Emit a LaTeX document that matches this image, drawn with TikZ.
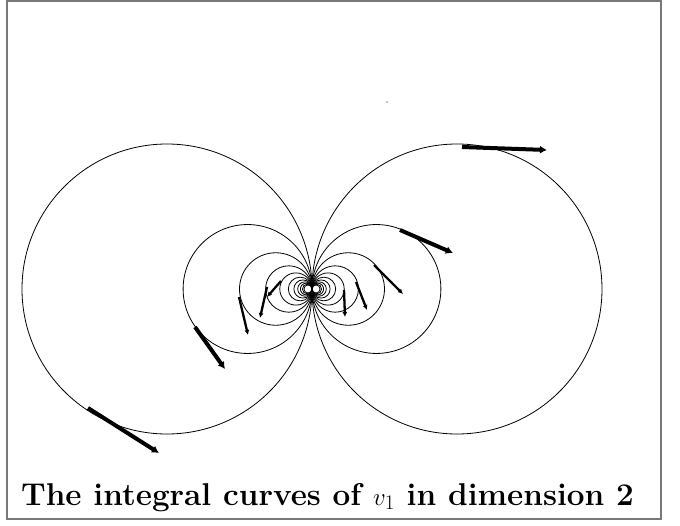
\documentclass[tikz,border=0pt]{standalone}
\usepackage{amsmath,amssymb}
\usetikzlibrary{calc}
\usetikzlibrary{arrows.meta}
\definecolor{FrameGray}{RGB}{120,120,120}
\tikzset{
  curve/.style={draw=black,line width=0.8pt},
  vec/.style={draw=black,line width=4pt,-{Latex[length=7pt,width=8pt]}},
  thinvec/.style={draw=black,line width=2.3pt,-{Latex[length=5pt,width=5pt]}},
  caption/.style={anchor=base,inner sep=0pt,font=\fontsize{31.5}{36}\selectfont\bfseries},
}

\begin{document}
\begin{tikzpicture}[x=1pt,y=1pt]
\useasboundingbox (-312,-236) rectangle (368,289);
\draw[FrameGray,line width=1.6pt] (-305,288) rectangle (349,-230);
\coordinate (O) at (0,0);
% loops through O, radius 580/n^2
\foreach \n in {2,...,12}{
  \draw[curve] ({-580/(\n*\n)},0) circle ({580/(\n*\n)});
  \draw[curve] ({580/(\n*\n)},0) circle ({580/(\n*\n)});
}
% tangent vectors
\foreach \i/\sx/\sy/\ex/\ey in {1/-224/-119/-153/-164, 2/-117/-38/-87/-80,
    6/150/142/235/139, 7/88/59/141/36}{
  \coordinate (s\i) at (\sx,\sy);
  \coordinate (e\i) at (\ex,\ey);
  \draw[vec] (s\i)--(e\i);
}
\foreach \i/\sx/\sy/\ex/\ey in {3/-73/-8/-64/-46, 4/-45/2/-52/-29, 5/-31/8/-45/-8,
    8/62/24/91/-5, 9/44/7/55/-21, 10/32/-1/33/-28}{
  \coordinate (s\i) at (\sx,\sy);
  \coordinate (e\i) at (\ex,\ey);
  \draw[thinvec] (s\i)--(e\i);
}
\fill (75,187) circle (0.7);
\node[caption] (cap) at (15.5,-216) {The integral curves of $v_1$ in dimension 2};
\end{tikzpicture}
\end{document}
